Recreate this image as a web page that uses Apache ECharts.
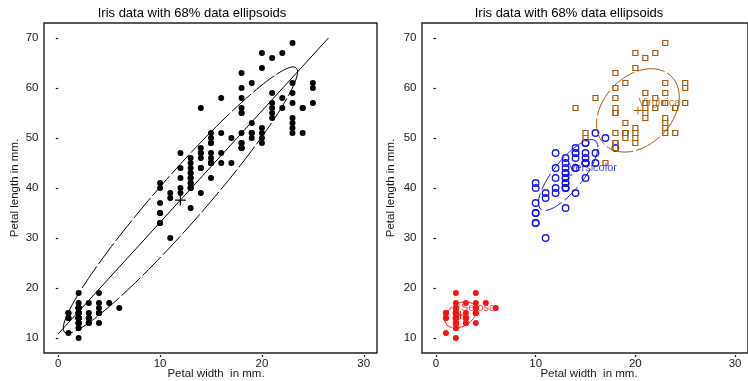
<!DOCTYPE html>
<html>
<head>
<meta charset="utf-8">
<script src="https://cdn.jsdelivr.net/npm/echarts@6/dist/echarts.min.js"></script>
<style>
  html, body { margin: 0; padding: 0; background: #fff; }
  #chart { width: 748px; height: 381px; }
</style>
</head>
<body>
<div id="chart"></div>
<script>
// Fisher's iris data, petal measurements in mm.
const speciesNames = ['Setosa', 'Versicolor', 'Virginica'];

const setosaWidth = [2,2,2,2,2,4,3,2,2,1,2,2,1,1,2,4,4,3,3,3,2,4,2,5,2,2,4,2,2,2,2,4,1,2,2,2,2,1,2,2,3,3,2,6,4,3,2,2,2,2];
const setosaLength = [14,14,13,15,14,17,14,15,14,15,15,16,14,11,12,15,13,14,17,15,17,15,10,17,19,16,16,15,14,16,16,15,15,14,15,12,13,14,13,15,13,13,13,16,19,14,16,14,15,14];

const versicolorWidth = [14,15,15,13,15,13,16,10,13,14,10,15,10,14,13,14,15,10,15,11,18,13,15,12,13,14,14,17,15,10,11,10,12,16,15,16,15,13,13,13,12,14,12,10,13,12,13,13,11,13];
const versicolorLength = [47,45,49,40,46,45,47,33,46,39,35,42,40,47,36,44,45,41,45,39,48,40,49,47,43,44,48,50,45,35,38,37,39,51,45,45,47,44,41,40,44,46,40,33,42,42,42,43,30,41];

const virginicaWidth = [25,19,21,18,22,21,17,18,18,25,20,19,21,20,24,23,18,22,23,15,23,20,20,18,21,18,18,18,21,16,19,20,22,15,14,23,24,18,18,21,24,23,19,23,25,23,19,20,23,18];
const virginicaLength = [60,51,59,56,58,66,45,63,58,61,51,53,55,50,51,53,55,67,69,50,57,49,67,49,57,60,48,49,56,58,61,64,56,51,56,61,56,55,48,54,56,51,51,59,57,52,50,52,54,51];

const xTicks = [0, 10, 20, 30];
const yTicks = [10, 20, 30, 40, 50, 60, 70];
const coverage = 0.68;

const titleText = 'Iris data with 68% data ellipsoids';
const xTitle = 'Petal width  in mm.';
const yTitle = 'Petal length in mm.';

// ---------- statistics ----------
function moments(xs, ys) {
  const n = xs.length;
  const mx = xs.reduce((a, b) => a + b, 0) / n;
  const my = ys.reduce((a, b) => a + b, 0) / n;
  let sxx = 0, syy = 0, sxy = 0;
  for (let i = 0; i < n; i++) {
    const dx = xs[i] - mx, dy = ys[i] - my;
    sxx += dx * dx; syy += dy * dy; sxy += dx * dy;
  }
  sxx /= (n - 1); syy /= (n - 1); sxy /= (n - 1);
  return { mx, my, sx: Math.sqrt(sxx), sy: Math.sqrt(syy), r: sxy / Math.sqrt(sxx * syy), sxx, sxy };
}

// Bivariate normal contour enclosing the given share of the data.
function ellipse(m, p) {
  const c = Math.sqrt(-2 * Math.log(1 - p));
  const pts = [];
  const steps = 160;
  const k = Math.sqrt(1 - m.r * m.r);
  for (let i = 0; i <= steps; i++) {
    const t = 2 * Math.PI * i / steps;
    pts.push([
      m.mx + c * m.sx * Math.cos(t),
      m.my + c * m.sy * (m.r * Math.cos(t) + k * Math.sin(t))
    ]);
  }
  return pts;
}

const zip = (xs, ys) => xs.map((x, i) => [x, ys[i]]);

const allWidth = setosaWidth.concat(versicolorWidth, virginicaWidth);
const allLength = setosaLength.concat(versicolorLength, virginicaLength);
const allStats = moments(allWidth, allLength);
const slope = allStats.sxy / allStats.sxx;
const intercept = allStats.my - slope * allStats.mx;
const yTop = yTicks[yTicks.length - 1];
const fitLine = [[0, intercept], [(yTop - intercept) / slope, yTop]];

const groups = [
  { name: speciesNames[0], w: setosaWidth, l: setosaLength, color: '#ff1010' },
  { name: speciesNames[1], w: versicolorWidth, l: versicolorLength, color: '#1414ff' },
  { name: speciesNames[2], w: virginicaWidth, l: virginicaLength, color: '#a85a0a' }
];
groups.forEach(g => { g.stats = moments(g.w, g.l); });

// ---------- chart ----------
const FONT = '"Liberation Sans", Arial, Helvetica, sans-serif';
const INK = '#1a1a1a';
const plus = 'path://M0,4.4H10V5.6H0ZM4.4,0H5.6V10H4.4Z';

function xAxisFor(gridIndex) {
  return {
    type: 'value', gridIndex, min: -1.4, max: 31.3,
    offset: 2,
    axisLine: { show: false },
    splitLine: { show: false },
    axisTick: { show: true, length: 2, customValues: xTicks, lineStyle: { color: INK, width: 1.2 } },
    axisLabel: { customValues: xTicks, margin: 3, fontFamily: FONT, fontSize: 11.5, color: INK }
  };
}
function yAxisFor(gridIndex) {
  return {
    type: 'value', gridIndex, min: 7, max: 73,
    offset: 3,
    axisLine: { show: false },
    splitLine: { show: false },
    axisTick: { show: true, length: 2.5, customValues: yTicks, lineStyle: { color: INK, width: 1.2 } },
    axisLabel: { customValues: yTicks, margin: 2.5, fontFamily: FONT, fontSize: 11.5, color: INK }
  };
}

const series = [];

// Left panel: pooled data, fitted line, pooled ellipse
series.push({
  type: 'scatter', xAxisIndex: 0, yAxisIndex: 0, silent: true,
  data: zip(allWidth, allLength), symbol: 'circle', symbolSize: 6,
  itemStyle: { color: '#000', opacity: 1 }
});
series.push({
  type: 'line', xAxisIndex: 0, yAxisIndex: 0, silent: true, showSymbol: false,
  data: fitLine, lineStyle: { color: '#000', width: 1 }
});
series.push({
  type: 'line', xAxisIndex: 0, yAxisIndex: 0, silent: true, showSymbol: false,
  data: ellipse(allStats, coverage), lineStyle: { color: '#000', width: 1, type: [26, 3] }
});
series.push({
  type: 'scatter', xAxisIndex: 0, yAxisIndex: 0, silent: true,
  data: [[allStats.mx, allStats.my]], symbol: plus, symbolSize: 11,
  itemStyle: { color: '#000', opacity: 1 }
});

// Right panel: one group per species
const markStyles = [
  { symbol: 'circle', size: 6, item: c => ({ color: c, opacity: 1 }) },
  { symbol: 'circle', size: 6.5, item: c => ({ color: 'rgba(255,255,255,0)', borderColor: c, borderWidth: 1.3, opacity: 1 }) },
  { symbol: 'rect', size: 5, item: c => ({ color: 'rgba(255,255,255,0)', borderColor: c, borderWidth: 1.2, opacity: 1 }) }
];
const dashes = [[12, 3], [18, 4], [28, 3]];

groups.forEach((g, i) => {
  const ms = markStyles[i];
  series.push({
    type: 'scatter', xAxisIndex: 1, yAxisIndex: 1, silent: true,
    data: zip(g.w, g.l), symbol: ms.symbol, symbolSize: ms.size,
    itemStyle: ms.item(g.color)
  });
  series.push({
    type: 'line', xAxisIndex: 1, yAxisIndex: 1, silent: true, showSymbol: false,
    data: ellipse(g.stats, coverage), lineStyle: { color: g.color, width: 1, type: dashes[i] }
  });
  series.push({
    type: 'scatter', xAxisIndex: 1, yAxisIndex: 1, silent: true,
    data: [[g.stats.mx, g.stats.my]], symbol: plus, symbolSize: 8,
    itemStyle: { color: g.color, opacity: 1 }
  });
});
groups.forEach(g => {
  series.push({
    type: 'scatter', xAxisIndex: 1, yAxisIndex: 1, silent: true, z: 5,
    data: [{ value: [g.stats.mx, g.stats.my], name: g.name }],
    symbol: 'circle', symbolSize: 1,
    itemStyle: { color: 'rgba(0,0,0,0)' },
    label: {
      show: true, position: 'right', distance: 0, offset: [0, -7],
      formatter: '{b}', fontFamily: FONT, fontSize: 11, color: g.color
    }
  });
});

function panelTexts(titleX, xTitleX, yTitleX) {
  return [
    { type: 'text', x: titleX, y: 13, style: { text: titleText, font: '13px ' + FONT, fill: '#000', textAlign: 'center', textVerticalAlign: 'middle' } },
    { type: 'text', x: xTitleX, y: 374, style: { text: xTitle, font: '11.5px ' + FONT, fill: INK, textAlign: 'center', textVerticalAlign: 'middle' } },
    { type: 'text', x: yTitleX, y: 188, rotation: Math.PI / 2, style: { text: yTitle, font: '11.5px ' + FONT, fill: INK, textAlign: 'center', textVerticalAlign: 'middle' } }
  ];
}

const option = {
  backgroundColor: '#fff',
  animation: false,
  grid: [
    { left: 44, top: 23, width: 333, height: 330, show: true, borderColor: '#222', borderWidth: 1.4, backgroundColor: 'transparent' },
    { left: 422, top: 23, width: 333, height: 330, show: true, borderColor: '#222', borderWidth: 1.4, backgroundColor: 'transparent' }
  ],
  xAxis: [xAxisFor(0), xAxisFor(1)],
  yAxis: [yAxisFor(0), yAxisFor(1)],
  series,
  graphic: panelTexts(192, 216, 15).concat(panelTexts(569, 589, 391))
};

const chart = echarts.init(document.getElementById('chart'), null, { renderer: 'canvas' });
chart.setOption(option);
</script>
</body>
</html>
